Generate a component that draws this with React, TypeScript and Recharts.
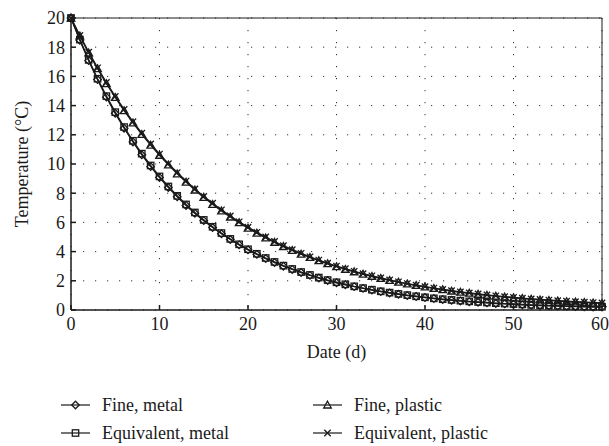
import React from "react";
import {
  CartesianGrid,
  Line,
  LineChart,
  ReferenceLine,
  XAxis,
  YAxis,
} from "recharts";

const days = Array.from({ length: 61 }, (_, i) => i);

const fineMetal = [
  20.0, 18.48, 17.08, 15.78, 14.58, 13.47, 12.45, 11.51, 10.63, 9.82, 9.08,
  8.39, 7.75, 7.16, 6.62, 6.12, 5.65, 5.22, 4.83, 4.46, 4.12, 3.81, 3.52, 3.25,
  3.0, 2.78, 2.57, 2.37, 2.19, 2.02, 1.87, 1.73, 1.6, 1.48, 1.36, 1.26, 1.16,
  1.08, 0.99, 0.92, 0.85, 0.78, 0.72, 0.67, 0.62, 0.57, 0.53, 0.49, 0.45, 0.42,
  0.39, 0.36, 0.33, 0.31, 0.29, 0.27, 0.25, 0.24, 0.22, 0.21, 0.2,
];

const equivalentMetal = [
  20.0, 18.52, 17.13, 15.84, 14.65, 13.55, 12.53, 11.59, 10.71, 9.9, 9.15,
  8.46, 7.82, 7.23, 6.68, 6.17, 5.7, 5.27, 4.87, 4.5, 4.16, 3.85, 3.56, 3.29,
  3.04, 2.81, 2.6, 2.4, 2.22, 2.05, 1.9, 1.76, 1.62, 1.5, 1.39, 1.28, 1.19,
  1.1, 1.02, 0.94, 0.87, 0.8, 0.74, 0.69, 0.64, 0.59, 0.55, 0.51, 0.47, 0.44,
  0.41, 0.38, 0.35, 0.33, 0.31, 0.29, 0.27, 0.25, 0.24, 0.23, 0.22,
];

const finePlastic = [
  20.0, 18.77, 17.61, 16.53, 15.51, 14.56, 13.66, 12.82, 12.03, 11.29, 10.6,
  9.94, 9.33, 8.76, 8.22, 7.71, 7.24, 6.79, 6.37, 5.98, 5.61, 5.27, 4.94, 4.64,
  4.35, 4.09, 3.83, 3.6, 3.38, 3.17, 2.97, 2.79, 2.62, 2.46, 2.31, 2.16, 2.03,
  1.91, 1.79, 1.68, 1.58, 1.48, 1.39, 1.3, 1.22, 1.15, 1.08, 1.01, 0.95, 0.89,
  0.84, 0.79, 0.74, 0.7, 0.66, 0.62, 0.58, 0.55, 0.52, 0.49, 0.46,
];

const equivalentPlastic = [
  20.0, 18.8, 17.66, 16.59, 15.58, 14.63, 13.74, 12.9, 12.11, 11.37, 10.68,
  10.02, 9.41, 8.83, 8.29, 7.78, 7.31, 6.86, 6.44, 6.04, 5.67, 5.32, 5.0, 4.69,
  4.4, 4.13, 3.88, 3.64, 3.42, 3.21, 3.01, 2.83, 2.65, 2.49, 2.34, 2.19, 2.06,
  1.93, 1.81, 1.7, 1.6, 1.5, 1.41, 1.32, 1.24, 1.17, 1.1, 1.03, 0.97, 0.91,
  0.86, 0.81, 0.76, 0.72, 0.68, 0.64, 0.6, 0.57, 0.54, 0.51, 0.48,
];

const xTicks = [0, 10, 20, 30, 40, 50, 60];
const yTicks = [0, 2, 4, 6, 8, 10, 12, 14, 16, 18, 20];

const data = days.map((d, i) => ({
  day: d,
  fineMetal: fineMetal[i],
  equivalentMetal: equivalentMetal[i],
  finePlastic: finePlastic[i],
  equivalentPlastic: equivalentPlastic[i],
}));

const INK = "#1a1a1a";
const FONT = "'Liberation Serif', 'DejaVu Serif', serif";
const FS = 18;

type MarkerKind = "diamond" | "square" | "triangle" | "cross";

const Marker = ({ kind, cx, cy }: { kind: MarkerKind; cx: number; cy: number }) => {
  const s = 3.8;
  if (kind === "diamond")
    return (
      <polygon
        points={`${cx},${cy - s} ${cx + s},${cy} ${cx},${cy + s} ${cx - s},${cy}`}
        fill="none"
        stroke={INK}
        strokeWidth={1.3}
      />
    );
  if (kind === "square")
    return (
      <rect
        x={cx - 3.2}
        y={cy - 3.2}
        width={6.4}
        height={6.4}
        fill="none"
        stroke={INK}
        strokeWidth={1.3}
      />
    );
  if (kind === "triangle")
    return (
      <polygon
        points={`${cx},${cy - s} ${cx + s},${cy + s - 0.8} ${cx - s},${cy + s - 0.8}`}
        fill="none"
        stroke={INK}
        strokeWidth={1.3}
      />
    );
  return (
    <path
      d={`M${cx - 3.2},${cy - 3.2}L${cx + 3.2},${cy + 3.2}M${cx - 3.2},${cy + 3.2}L${cx + 3.2},${cy - 3.2}`}
      stroke={INK}
      strokeWidth={1.3}
    />
  );
};

const dotFor = (kind: MarkerKind) => (props: any) => {
  const { cx, cy, index } = props;
  if (cx == null || cy == null) return <g key={`${kind}-${index}`} />;
  return (
    <g key={`${kind}-${index}`}>
      <Marker kind={kind} cx={cx} cy={cy} />
    </g>
  );
};

const series: { key: string; name: string; kind: MarkerKind }[] = [
  { key: "fineMetal", name: "Fine, metal", kind: "diamond" },
  { key: "equivalentMetal", name: "Equivalent, metal", kind: "square" },
  { key: "finePlastic", name: "Fine, plastic", kind: "triangle" },
  { key: "equivalentPlastic", name: "Equivalent, plastic", kind: "cross" },
];

const LegendItem = ({ name, kind }: { name: string; kind: MarkerKind }) => (
  <div style={{ display: "flex", alignItems: "center", height: 28 }}>
    <svg width={40} height={14} style={{ marginRight: 1 }}>
      <line x1={0} y1={7} x2={29} y2={7} stroke={INK} strokeWidth={1.2} />
      <Marker kind={kind} cx={14.5} cy={7} />
    </svg>
    <span style={{ fontSize: FS, color: INK }}>{name}</span>
  </div>
);

export default function App() {
  return (
    <div style={{ position: "relative", width: 609, height: 446, fontFamily: FONT, background: "#fff" }}>
      <style>{"body{margin:0}"}</style>
      <LineChart
        width={609}
        height={446}
        data={data}
        margin={{ top: 18, right: 7, bottom: 86, left: 0 }}
      >
        <CartesianGrid stroke="#333" strokeDasharray="1.2 10.8" />
        <XAxis
          dataKey="day"
          type="number"
          domain={[0, 60]}
          ticks={xTicks}
          height={50}
          stroke={INK}
          strokeWidth={1.5}
          tickSize={-5}
          tickMargin={12}
          tick={{ fill: INK, fontSize: FS, fontFamily: FONT }}
          label={{
            value: "Date (d)",
            position: "insideBottom",
            offset: 2,
            style: { fill: INK, fontSize: FS, fontFamily: FONT },
          }}
        />
        <YAxis
          type="number"
          domain={[0, 20]}
          ticks={yTicks}
          width={71}
          stroke={INK}
          strokeWidth={1.5}
          tickSize={-5}
          tickMargin={11}
          tick={{ fill: INK, fontSize: FS, fontFamily: FONT }}
          label={{
            value: "Temperature (°C)",
            angle: -90,
            position: "insideLeft",
            offset: 22,
            style: { fill: INK, fontSize: FS, fontFamily: FONT, textAnchor: "middle" },
          }}
        />
        <ReferenceLine x={60} stroke={INK} strokeWidth={1} />
        <ReferenceLine y={20} stroke={INK} strokeWidth={1} />
        {series.map((s) => (
          <Line
            key={s.key}
            dataKey={s.key}
            name={s.name}
            type="linear"
            stroke={INK}
            strokeWidth={1.4}
            dot={dotFor(s.kind)}
            activeDot={false}
            isAnimationActive={false}
          />
        ))}
      </LineChart>
      <div
        style={{
          position: "absolute",
          left: 61,
          top: 391,
          display: "grid",
          gridTemplateColumns: "252px 240px",
        }}
      >
        <LegendItem name={series[0].name} kind={series[0].kind} />
        <LegendItem name={series[2].name} kind={series[2].kind} />
        <LegendItem name={series[1].name} kind={series[1].kind} />
        <LegendItem name={series[3].name} kind={series[3].kind} />
      </div>
    </div>
  );
}
